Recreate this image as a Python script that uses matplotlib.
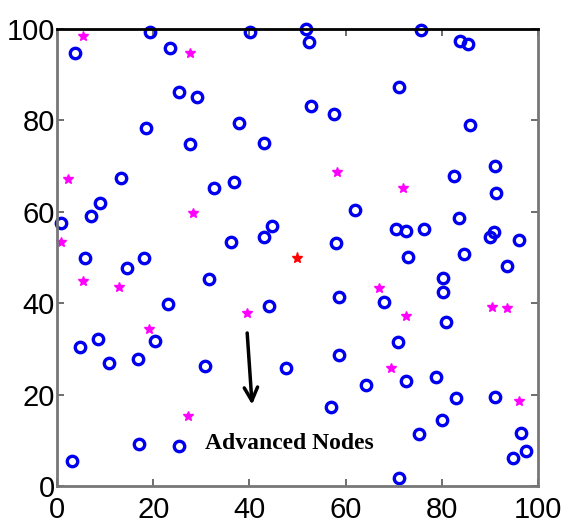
import numpy as np
import matplotlib.pyplot as plt

# normal nodes (blue rings)
normal_x = [3.7, 19.3, 23.5, 25.4, 29.1, 18.5, 27.7, 37.9, 43.0, 40.1,
            13.3, 32.6, 36.8, 8.9, 7.1, 0.8, 36.2, 43.0, 44.7, 5.8,
            18.1, 14.5, 31.6, 23.0, 44.1, 4.8, 8.6, 10.8, 16.8, 20.4,
            30.8, 47.6, 17.1, 25.4, 3.1,
            51.8, 52.4, 75.7, 83.8, 85.4, 71.1, 52.8, 57.6, 85.9, 91.1,
            82.5, 91.3, 62.0, 83.6, 70.5, 72.6, 76.3, 58.0, 90.0, 90.9,
            96.0, 73.0, 84.6, 93.6, 80.2, 80.2, 58.6, 68.0, 80.9, 70.9,
            58.6, 64.2, 72.6, 78.8, 82.9, 91.1, 57.0, 80.0, 75.3, 96.5,
            97.5, 94.8, 71.1]
normal_y = [94.7, 99.3, 95.8, 86.2, 85.1, 78.3, 74.8, 79.4, 75.1, 99.3,
            67.4, 65.2, 66.5, 61.9, 59.1, 57.5, 53.4, 54.5, 56.9, 49.9,
            49.9, 47.7, 45.3, 39.8, 39.4, 30.4, 32.2, 26.9, 27.8, 31.7,
            26.3, 25.8, 9.2, 8.8, 5.5,
            100.0, 97.2, 99.8, 97.4, 96.7, 87.3, 83.2, 81.4, 79.0, 70.0,
            67.8, 64.1, 60.4, 58.6, 56.2, 55.8, 56.2, 53.2, 54.5, 55.6,
            53.8, 50.1, 50.8, 48.1, 45.5, 42.5, 41.4, 40.3, 35.9, 31.5,
            28.7, 22.1, 23.0, 23.9, 19.3, 19.5, 17.3, 14.4, 11.4, 11.6,
            7.7, 6.1, 1.8]

# advanced nodes (magenta)
adv_x = [5.4, 27.7, 2.3, 28.3, 0.8, 58.2, 71.9, 5.4, 12.9, 19.1,
         39.5, 27.2, 66.9, 72.6, 90.4, 93.6, 69.4, 96.0]
adv_y = [98.5, 94.7, 67.2, 59.7, 53.4, 68.7, 65.2, 44.9, 43.5, 34.4,
         37.9, 15.3, 43.3, 37.2, 39.2, 39.0, 25.8, 18.6]

# base station
sink_x = [50]
sink_y = [50]

ticks = [0, 20, 40, 60, 80, 100]

fig = plt.figure(figsize=(5.61, 5.27), dpi=100)
ax = fig.add_axes([0.1016, 0.0778, 0.8574, 0.867])

ax.plot(normal_x, normal_y, 'o', mfc='none', mec='#0000ee', mew=2.4, ms=7.5,
        linestyle='none', clip_on=False)
ax.plot(adv_x, adv_y, '*', color='#ff00ff', ms=7, linestyle='none', clip_on=False)
ax.plot(sink_x, sink_y, '*', color='#ff0000', ms=8, linestyle='none')

ax.annotate('', xy=(40.6, 17.2), xytext=(39.5, 34.1),
            arrowprops=dict(arrowstyle='->', lw=2.5, color='black', mutation_scale=24))
ax.text(30.8, 9.4, 'Advanced Nodes', family='Liberation Serif', fontweight='bold',
        fontsize=17, va='center', ha='left')

ax.set_xlim(0, 100)
ax.set_ylim(0, 100)
ax.set_xticks(ticks)
ax.set_yticks(ticks)
ax.tick_params(direction='in', length=5, width=1.2, color='#555555',
               top=True, right=True, labelsize=21)
ax.tick_params(axis='x', pad=7)
ax.tick_params(axis='y', pad=1.5)
for lab in ax.get_xticklabels() + ax.get_yticklabels():
    lab.set_family(['Liberation Sans Narrow', 'Liberation Sans'])

for side in ['left', 'bottom', 'right']:
    ax.spines[side].set_color('#777777')
    ax.spines[side].set_linewidth(2)
ax.spines['top'].set_color('black')
ax.spines['top'].set_linewidth(2)

plt.savefig('out.png', dpi=100)
